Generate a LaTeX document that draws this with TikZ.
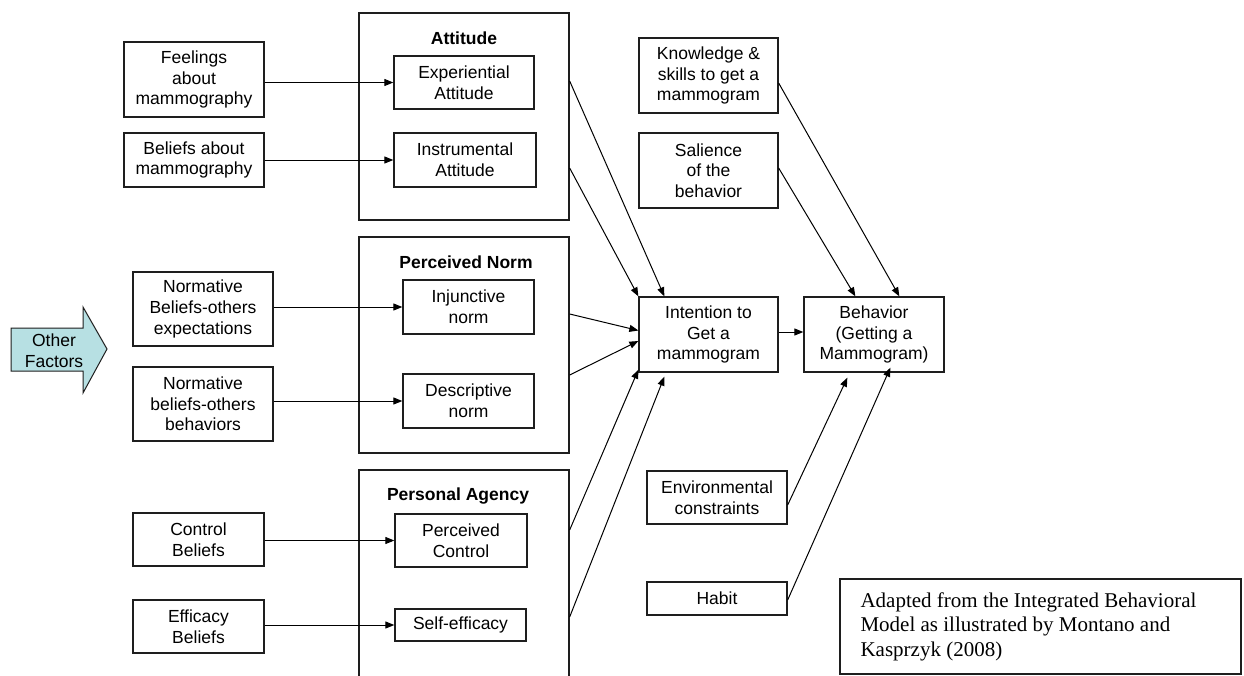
\documentclass[tikz,border=0pt]{standalone}
\usepackage{fontspec}
\setmainfont{Liberation Sans}
\newfontfamily\citefont{Liberation Serif}
\usetikzlibrary{arrows.meta,calc}
\definecolor{otherfill}{RGB}{183,224,227}
\definecolor{edge}{RGB}{30,30,30}
\begin{document}
\begin{tikzpicture}[x=1pt,y=-1pt,
  box/.style={draw=edge, line width=1.3pt, align=center, inner sep=0pt, font=\fontsize{17.5}{20.7}\selectfont},
  grp/.style={draw=edge, line width=1.3pt, inner sep=0pt},
  glabel/.style={font=\fontsize{17.5}{20.7}\selectfont\bfseries, inner sep=0pt},
  conn/.style={line width=1pt, -{Triangle[length=9pt,width=7pt]}},
]
\useasboundingbox (0,0) rectangle (1244,675);
\clip (0,0) rectangle (1244,675);
\fill[white] (0,0) rectangle (1244,675);

% group boxes
\node[grp, minimum width=210pt, minimum height=207pt] (attitude) at (464,116.5) {};
\node[grp, minimum width=210pt, minimum height=216pt] (norm) at (464,345) {};
\node[grp, minimum width=210pt, minimum height=240pt] (agency) at (464,590) {};
\node[glabel] (attlab) at (464,38) {Attitude};
\node[glabel] (normlab) at (466,262) {Perceived Norm};
\node[glabel] (aglab) at (458,496) {Personal Agency};

% inner boxes
\node[box, minimum width=140pt, minimum height=53pt] (exp) at (464,82.5) {Experiential\\Attitude};
\node[box, minimum width=142pt, minimum height=54pt] (instr) at (465,160) {Instrumental\\Attitude};
\node[box, minimum width=131pt, minimum height=54pt] (inj) at (468.5,307) {Injunctive\\norm};
\node[box, minimum width=131pt, minimum height=54pt] (desc) at (468.5,401) {Descriptive\\norm};
\node[box, minimum width=132pt, minimum height=53pt] (pc) at (461,540.5) {Perceived\\Control};
\node[box, minimum width=131pt, minimum height=32pt] (se) at (460.5,625) {Self-efficacy};

% left boxes
\node[box, minimum width=140pt, minimum height=75pt] (feel) at (194,79.5) {Feelings\\about\\mammography};
\node[box, minimum width=140pt, minimum height=54pt] (beliefs) at (194,160) {Beliefs about\\mammography};
\node[box, minimum width=140pt, minimum height=74pt] (normexp) at (203,309) {Normative\\Beliefs-others\\expectations};
\node[box, minimum width=140pt, minimum height=74pt] (normbeh) at (203,404) {Normative\\beliefs-others\\behaviors};
\node[box, minimum width=131pt, minimum height=53pt] (control) at (198.5,539.5) {Control\\Beliefs};
\node[box, minimum width=131pt, minimum height=53pt] (efficacy) at (198.5,626.5) {Efficacy\\Beliefs};

% right boxes
\node[box, minimum width=139pt, minimum height=75pt] (know) at (708.5,75.5) {Knowledge \&\\skills to get a\\mammogram};
\node[box, minimum width=139pt, minimum height=75pt] (sal) at (708.5,170.5) {Salience\\of the\\behavior};
\node[box, minimum width=139pt, minimum height=75pt] (int) at (708.5,334.5) {Intention to\\Get a\\mammogram};
\node[box, minimum width=140pt, minimum height=75pt] (beh) at (874,334.5) {Behavior\\(Getting a\\Mammogram)};
\node[box, minimum width=140pt, minimum height=53pt] (env) at (717,497.5) {Environmental\\constraints};
\node[box, minimum width=140pt, minimum height=33pt] (habit) at (717,598.5) {Habit};

% citation
\node[draw=edge, line width=1.3pt, minimum width=401pt, minimum height=95pt, inner sep=0pt] (cite) at (1040.5,626.5) {};
\node[anchor=west, align=left, font=\citefont\fontsize{21}{24.5}\selectfont, inner sep=0pt] (citetext) at ($(cite.west)+(21,0)$) {Adapted from the Integrated Behavioral\\Model as illustrated by Montano and\\Kasprzyk (2008)};

% other factors arrow
\path[draw=edge, line width=1pt, fill=otherfill] (11,328) -- (83,328) -- (83,307) -- (107,349) -- (83,393) -- (83,371) -- (11,371) -- cycle;
\node[align=center, font=\fontsize{17.5}{20.7}\selectfont, inner sep=0pt] (other) at (54,351) {Other\\Factors};

% left -> inner
\draw[conn] (feel.east |- exp.west) -- (exp.west);
\draw[conn] (beliefs.east |- instr.west) -- (instr.west);
\draw[conn] (normexp.east |- inj.west) -- (inj.west);
\draw[conn] (normbeh.east |- desc.west) -- (desc.west);
\draw[conn] (control.east |- pc.west) -- (pc.west);
\draw[conn] (efficacy.east |- se.west) -- (se.west);

% groups -> intention
\draw[conn] ($(attitude.east |- exp.east)+(0,-1.5)$) -- ($(int.north west)+(26,0)$);
\draw[conn] ($(attitude.east |- instr.east)+(0,8)$) -- (int.north west);
\draw[conn] ($(norm.east |- inj.east)+(0,7)$) -- ($(int.west)+(0,-4)$);
\draw[conn] ($(norm.east |- desc.east)+(0,-26)$) -- ($(int.west)+(0,6.5)$);
\draw[conn] ($(agency.east |- pc.east)+(0,-10.5)$) -- ($(int.south west)+(0,-3)$);
\draw[conn] ($(agency.east |- se.east)+(0,-8)$) -- ($(int.south west)+(26,4)$);

% intention -> behavior
\draw[conn] ($(int.east)+(0,-2.5)$) -- ($(beh.west)+(0,-2.5)$);

% others -> behavior
\draw[conn] ($(know.east)+(0,7.5)$) -- ($(beh.north west)+(96,0)$);
\draw[conn] ($(sal.east)+(0,-2.5)$) -- ($(beh.north west)+(52,0)$);
\draw[conn] ($(env.east)+(0,7.5)$) -- ($(beh.south west)+(44,5)$);
\draw[conn] ($(habit.east)+(0,1.5)$) -- ($(beh.south west)+(87,-5)$);
\end{tikzpicture}
\end{document}
